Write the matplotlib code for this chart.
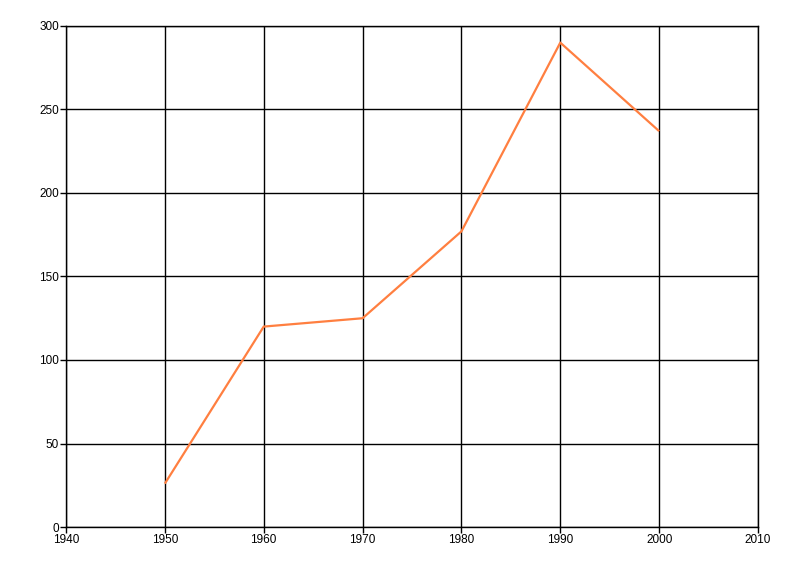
import matplotlib
matplotlib.use("Agg")
import matplotlib.pyplot as plt

years = [1950, 1960, 1970, 1980, 1990, 2000]
values = [26, 120, 125, 177, 290, 237]
x_ticks = [1940, 1950, 1960, 1970, 1980, 1990, 2000, 2010]
y_ticks = [0, 50, 100, 150, 200, 250, 300]

plt.rcParams['font.family'] = ['Liberation Sans', 'DejaVu Sans']
fig = plt.figure(figsize=(8, 5.76), dpi=100)
ax = fig.add_axes([0.0825, 0.085, 0.865, 0.87])
ax.plot(years, values, color='#FF7F40', linewidth=1.6, solid_capstyle='butt')
ax.set_xlim(1940, 2010)
ax.set_ylim(0, 300)
ax.set_xticks(x_ticks)
ax.set_yticks(y_ticks)
ax.grid(True, color='black', linewidth=1)
ax.set_axisbelow(True)
for s in ax.spines.values():
    s.set_color('black')
    s.set_linewidth(1)
ax.tick_params(direction='out', length=4, width=1, labelsize=8.5, colors='black', pad=1)
fig.savefig('out.png', dpi=100)
